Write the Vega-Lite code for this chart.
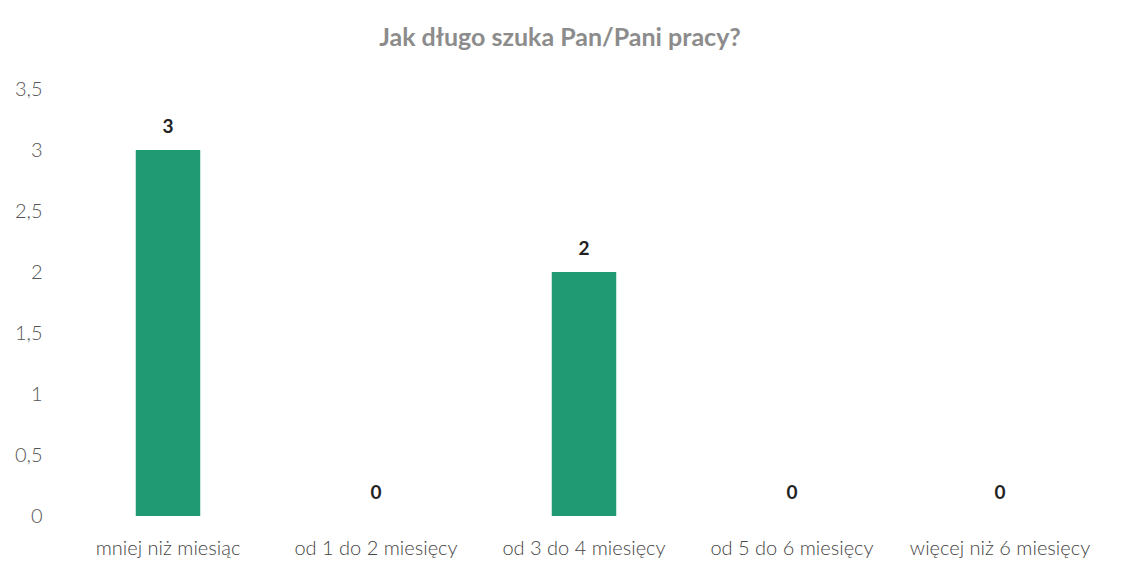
{
  "$schema": "https://vega.github.io/schema/vega-lite/v6.json",
  "autosize": "none",
  "width": 1040,
  "height": 427,
  "padding": {"left": 64, "top": 89, "right": 17, "bottom": 56},
  "background": "white",
  "title": {
    "text": "Jak długo szuka Pan/Pani pracy?",
    "font": "Lato",
    "fontSize": 25,
    "fontWeight": "bold",
    "color": "#8c8c8c",
    "offset": 28,
    "dx": -24,
    "anchor": "middle"
  },
  "data": {
    "values": [
      {"kategoria": "mniej niż miesiąc", "liczba": 3},
      {"kategoria": "od 1 do 2 miesięcy", "liczba": 0},
      {"kategoria": "od 3 do 4 miesięcy", "liczba": 2},
      {"kategoria": "od 5 do 6 miesięcy", "liczba": 0},
      {"kategoria": "więcej niż 6 miesięcy", "liczba": 0}
    ]
  },
  "config": {
    "view": {"stroke": null},
    "locale": {"number": {"decimal": ",", "thousands": " ", "grouping": [3], "currency": ["", " zł"]}}
  },
  "encoding": {
    "x": {
      "field": "kategoria",
      "type": "nominal",
      "sort": null,
      "scale": {"paddingInner": 0.69, "paddingOuter": 0.345},
      "axis": {
        "title": null,
        "labelAngle": 0,
        "labelFont": "Lato",
        "labelFontSize": 20,
        "labelFontWeight": 300,
        "labelColor": "#444444",
        "labelPadding": 22,
        "labelLimit": 0,
        "domain": false,
        "ticks": false
      }
    },
    "y": {
      "field": "liczba",
      "type": "quantitative",
      "scale": {"domain": [0, 3.5]},
      "axis": {
        "title": null,
        "values": [0, 0.5, 1, 1.5, 2, 2.5, 3, 3.5],
        "format": ",.2~f",
        "labelFont": "Lato",
        "labelFontSize": 20,
        "labelFontWeight": 300,
        "labelColor": "#555555",
        "labelPadding": 22,
        "domain": false,
        "ticks": false,
        "grid": false
      }
    }
  },
  "layer": [
    {"mark": {"type": "bar", "color": "#1f9a72"}},
    {
      "mark": {"type": "text", "dy": -23, "font": "Lato", "fontSize": 19, "fontWeight": "bold", "color": "#222222"},
      "encoding": {"text": {"field": "liczba", "type": "quantitative"}}
    }
  ]
}
